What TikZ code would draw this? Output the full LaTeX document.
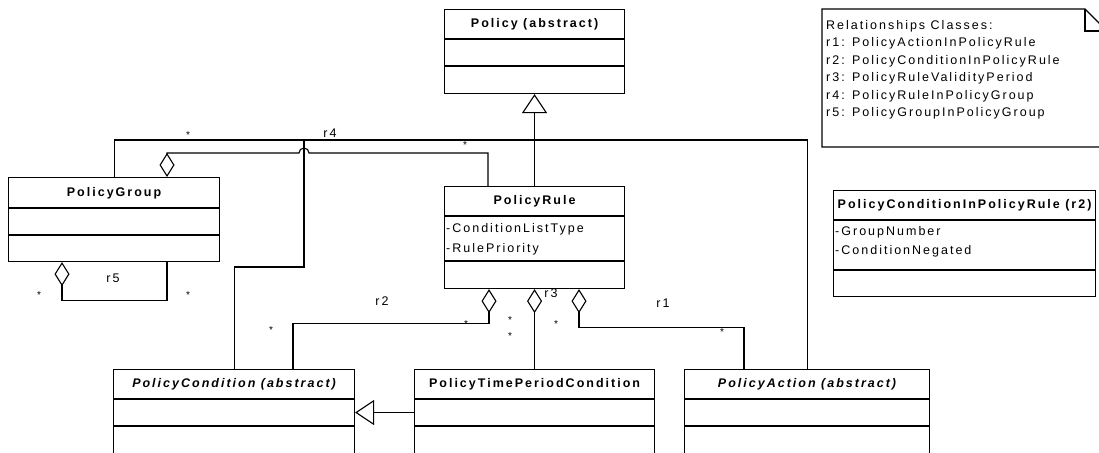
\documentclass[tikz,border=0pt]{standalone}
\usepackage{fontspec}
\newfontfamily\umlfont[LetterSpace=16]{Liberation Sans}
\usetikzlibrary{arrows.meta,calc}

\begin{document}
\begin{tikzpicture}[x=1pt,y=-1pt,
  ln/.style={line width=1.1pt},
  box/.style={draw, line width=1.1pt, anchor=north west, inner sep=0pt},
  ttl/.style={font=\umlfont\fontsize{12.5}{14}\selectfont\bfseries, inner sep=0pt},
  ittl/.style={font=\umlfont\fontsize{12.5}{14}\selectfont\bfseries\itshape, inner sep=0pt},
  txt/.style={font=\umlfont\fontsize{12.5}{14}\selectfont, inner sep=0pt, anchor=west},
  lbl/.style={font=\umlfont\fontsize{12.5}{14}\selectfont, inner sep=0pt},
  mult/.style={font=\umlfont\fontsize{10}{10}\selectfont, inner sep=0pt, yshift=-2pt},
  gen/.style={ln, -{Triangle[open, length=19pt, width=25pt]}},
  agg/.style={ln, {Diamond[open, length=24pt, width=15pt]}-},
]
\useasboundingbox (0,0) rectangle (1099,452);
\clip (0,0) rectangle (1099,452);

% ---- classes ----
\node[box, minimum width=180pt, minimum height=84pt] (policy) at (444,9) {};
\draw[ln] ($(policy.north west)+(0,30)$) -- ($(policy.north east)+(0,30)$);
\draw[ln] ($(policy.north west)+(0,57)$) -- ($(policy.north east)+(0,57)$);
\node[ttl] at ($(policy.north)+(0,15)$) {Policy (abstract)};

\node[box, minimum width=211pt, minimum height=84pt] (pg) at (8,177) {};
\draw[ln] ($(pg.north west)+(0,31)$) -- ($(pg.north east)+(0,31)$);
\draw[ln] ($(pg.north west)+(0,58)$) -- ($(pg.north east)+(0,58)$);
\node[ttl] at ($(pg.north)+(0,16)$) {PolicyGroup};

\node[box, minimum width=180pt, minimum height=102pt] (pr) at (444,186) {};
\draw[ln] ($(pr.north west)+(0,30)$) -- ($(pr.north east)+(0,30)$);
\draw[ln] ($(pr.north west)+(0,75)$) -- ($(pr.north east)+(0,75)$);
\node[ttl] at ($(pr.north)+(0,15)$) {PolicyRule};
\node[txt] at ($(pr.north west)+(2,43)$) {-ConditionListType};
\node[txt] at ($(pr.north west)+(2,63)$) {-RulePriority};

\node[box, minimum width=241pt, minimum height=86pt] (pc) at (113,369) {};
\draw[ln] ($(pc.north west)+(0,30)$) -- ($(pc.north east)+(0,30)$);
\draw[ln] ($(pc.north west)+(0,57)$) -- ($(pc.north east)+(0,57)$);
\node[ittl] at ($(pc.north)+(0,15)$) {PolicyCondition (abstract)};

\node[box, minimum width=240pt, minimum height=86pt] (ptpc) at (414,369) {};
\draw[ln] ($(ptpc.north west)+(0,30)$) -- ($(ptpc.north east)+(0,30)$);
\draw[ln] ($(ptpc.north west)+(0,57)$) -- ($(ptpc.north east)+(0,57)$);
\node[ttl] at ($(ptpc.north)+(0,15)$) {PolicyTimePeriodCondition};

\node[box, minimum width=245pt, minimum height=86pt] (pa) at (684,369) {};
\draw[ln] ($(pa.north west)+(0,30)$) -- ($(pa.north east)+(0,30)$);
\draw[ln] ($(pa.north west)+(0,57)$) -- ($(pa.north east)+(0,57)$);
\node[ittl] at ($(pa.north)+(0,15)$) {PolicyAction (abstract)};

\node[box, minimum width=262pt, minimum height=106pt] (pcr) at (833,190) {};
\draw[ln] ($(pcr.north west)+(0,30)$) -- ($(pcr.north east)+(0,30)$);
\draw[ln] ($(pcr.north west)+(0,80)$) -- ($(pcr.north east)+(0,80)$);
\node[ttl] at ($(pcr.north)+(0,15)$) {PolicyConditionInPolicyRule (r2)};
\node[txt] at ($(pcr.north west)+(2,42)$) {-GroupNumber};
\node[txt] at ($(pcr.north west)+(2,61)$) {-ConditionNegated};

% ---- note with folded corner ----
\draw[ln] (822,147) -- (822,9) -- (1085,9) -- (1107,31) -- (1107,147) -- cycle;
\draw[ln] (1085,9) -- (1085,31) -- (1107,31);
\node[txt] at (826,26) {Relationships Classes:};
\node[txt] at (826,43.5) {r1: PolicyActionInPolicyRule};
\node[txt] at (826,61) {r2: PolicyConditionInPolicyRule};
\node[txt] at (826,78.5) {r3: PolicyRuleValidityPeriod};
\node[txt] at (826,96) {r4: PolicyRuleInPolicyGroup};
\node[txt] at (826,113.5) {r5: PolicyGroupInPolicyGroup};

% ---- junction points ----
\coordinate (j4) at (304,140);
\coordinate (hop) at (304,153);

% ---- generalizations ----
\draw[gen] (pr.north) -- (policy.south);
\draw[gen] (ptpc.west) -- (pc.east);

% ---- r4 ----
\draw[ln] (pg.north) |- (j4) -| (pa.north);
\draw[ln] (pc.north) |- ($(j4)+(0,127)$) -- (j4);
\draw[agg] ($(pg.north west)+(159,0)$) |- ($(hop)+(-5,0)$)
  arc[start angle=180, end angle=360, radius=5]
  -- ($(pr.north west)+(44,-33)$) -- ($(pr.north west)+(44,0)$);

% ---- r5 ----
\draw[agg] ($(pg.south west)+(54,0)$) -- ++(0,38) -| ($(pg.south west)+(159,0)$);

% ---- r2, r3, r1 ----
\draw[agg] ($(pr.south west)+(45,0)$) -- ++(0,34) -| ($(pc.north west)+(180,0)$);
\draw[agg] (pr.south) -- (ptpc.north);
\draw[agg] ($(pr.south west)+(135,0)$) -- ++(0,38) -| ($(pa.north west)+(60,0)$);

% ---- role labels and multiplicities ----
\node[lbl] at (330,133) {r4};
\node[mult] at (188,133) {*};
\node[mult] at (465,143) {*};
\node[lbl] at (113,278) {r5};
\node[mult] at (39,293) {*};
\node[mult] at (188,293) {*};
\node[lbl] at (382,301) {r2};
\node[mult] at (271,328) {*};
\node[mult] at (466,322) {*};
\node[lbl] at (551,293) {r3};
\node[mult] at (510,318) {*};
\node[mult] at (510,334) {*};
\node[mult] at (556,322) {*};
\node[lbl] at (663,303) {r1};
\node[mult] at (722,330) {*};
\end{tikzpicture}
\end{document}
